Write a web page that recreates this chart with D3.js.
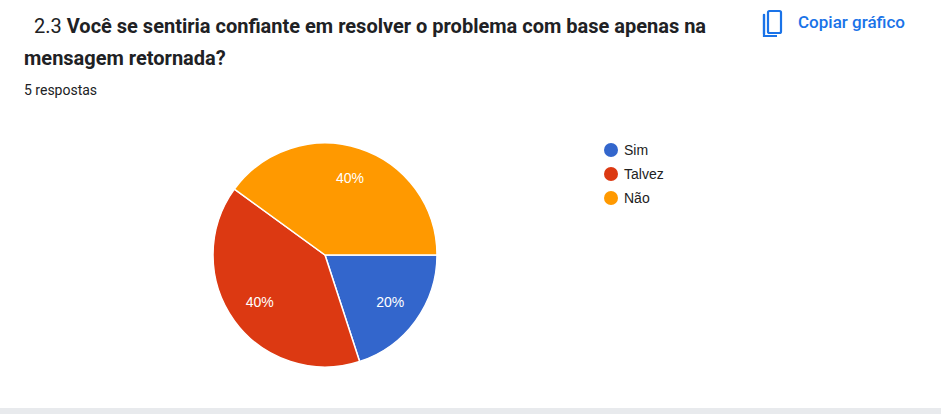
<!DOCTYPE html>
<html><head><meta charset="utf-8">
<script src="https://cdn.jsdelivr.net/npm/d3@7"></script>
<style>body{margin:0;background:#fff;font-family:Roboto,Arial,sans-serif}</style>
</head><body>
<svg id="c" width="941" height="414"></svg>
<script>
const categories = ["Sim", "Talvez", "Não"];
const values = [1, 2, 2];
const colors = ["#3366cc", "#dc3912", "#ff9900"];

const svg = d3.select("#c");
svg.append("rect").attr("x",0).attr("y",408).attr("width",941).attr("height",6).attr("fill","#e8eaed");

const t1 = svg.append("text").attr("x",34).attr("y",33).attr("font-size",20).attr("fill","#202124");
t1.append("tspan").text("2.3 ");
t1.append("tspan").attr("font-weight","bold").text("Você se sentiria confiante em resolver o problema com base apenas na");
svg.append("text").attr("x",24).attr("y",65).attr("font-size",20).attr("font-weight","bold").attr("fill","#202124").text("mensagem retornada?");
svg.append("text").attr("x",24).attr("y",95).attr("font-size",14).attr("fill","#202124").text("5 respostas");

// copy icon
const ic = svg.append("g").attr("fill","none").attr("stroke","#1a73e8").attr("stroke-width",2.2);
ic.append("path").attr("d","M764 15 v18 h0").attr("stroke-linecap","square");
ic.append("rect").attr("x",768).attr("y",11).attr("width",13).attr("height",22).attr("rx",1.5);
ic.append("path").attr("d","M764 15 V36 H777");
svg.append("text").attr("x",798).attr("y",28).attr("font-size",17).attr("fill","#1a73e8").attr("font-weight",500).text("Copiar gráfico");

const cx=325, cy=255, r=112;
const pie = d3.pie().sort(null).value(d=>d).startAngle(Math.PI/2).endAngle(Math.PI/2+2*Math.PI);
const arcs = pie(values);
const arc = d3.arc().innerRadius(0).outerRadius(r);
const g = svg.append("g").attr("transform",`translate(${cx},${cy})`);
g.selectAll("path").data(arcs).join("path").attr("d",arc).attr("fill",(d,i)=>colors[i]).attr("stroke","#fff").attr("stroke-width",1.5);
const total = d3.sum(values);
const la = d3.arc().innerRadius(r*0.72).outerRadius(r*0.72);
g.selectAll("text").data(arcs).join("text")
 .attr("transform",d=>`translate(${la.centroid(d)})`).attr("text-anchor","middle").attr("dy","0.35em")
 .attr("font-size",14).attr("fill","#fff").attr("font-family","Arial, sans-serif")
 .text(d=>Math.round(d.data/total*100)+"%");

const lg = svg.append("g");
categories.forEach((c,i)=>{
  lg.append("circle").attr("cx",611).attr("cy",150+i*24).attr("r",7).attr("fill",colors[i]);
  lg.append("text").attr("x",624).attr("y",150+i*24).attr("dy","0.35em").attr("font-size",14).attr("font-family","Arial, sans-serif").attr("fill","#222").text(c);
});
</script></body></html>
